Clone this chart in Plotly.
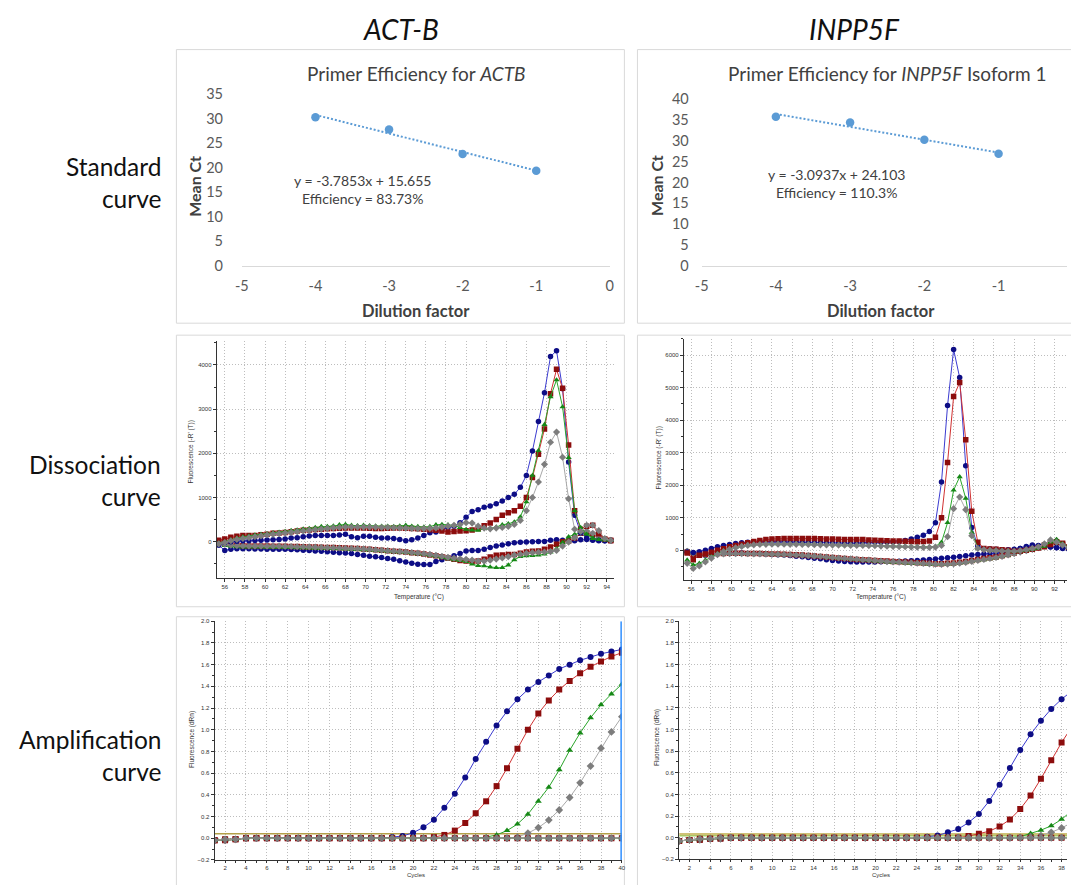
import plotly.graph_objects as go

# Figure size, the page's default body margin, and the factor by which the
# rendered page (figure plus margins) is reduced onto the 1071x885 canvas.
W, H = 1071, 885
PAGE_MARGIN = 8
FIG_W, FIG_H = W, H
SX = W / (W + 2 * PAGE_MARGIN)
SY = H / (H + 2 * PAGE_MARGIN)

# ---------------- Standard curves ----------------
dilution = [-4, -3, -2, -1]
actb_ct = [30.3, 27.8, 22.8, 19.4]
inpp5f_ct = [35.8, 34.4, 30.3, 26.9]
actb_fit = {"slope": -3.7853, "intercept": 15.655, "efficiency": "83.73%"}
inpp5f_fit = {"slope": -3.0937, "intercept": 24.103, "efficiency": "110.3%"}
dilution_ticks = [-5, -4, -3, -2, -1, 0]

# ---------------- Dissociation (melt) curves ----------------
actb_temp = [55.4, 56.0, 56.6, 57.2, 57.8, 58.4, 59.0, 59.6, 60.2, 60.8,
             61.4, 62.0, 62.6, 63.2, 63.8, 64.4, 65.0, 65.6, 66.2, 66.8,
             67.4, 68.0, 68.6, 69.2, 69.8, 70.4, 71.0, 71.6, 72.2, 72.8,
             73.4, 74.0, 74.6, 75.2, 75.8, 76.4, 77.0, 77.6, 78.2, 78.8,
             79.4, 80.0, 80.6, 81.2, 81.8, 82.4, 83.0, 83.6, 84.2, 84.8,
             85.4, 86.0, 86.6, 87.2, 87.8, 88.4, 89.0, 89.6, 90.2, 90.8,
             91.4, 92.0, 92.6, 93.2, 93.8, 94.4]
actb_melt_blue = [-50, -20, 0, 10, 20, 20, 25, 30, 35, 40,
                  50, 60, 80, 90, 110, 130, 140, 140, 140, 140,
                  150, 170, 110, 90, 120, 120, 100, 80, 80, 70,
                  50, 20, 40, 80, 140, 200, 220, 270, 320, 350,
                  430, 550, 680, 720, 780, 805, 860, 920, 1000, 1070,
                  1230, 1500, 2050, 2720, 3370, 4190, 4320, 3460, 1800, 600,
                  200, 80, 40, 30, 20, 30]
actb_melt_blue_b = [-80, -200, -170, -160, -160, -160, -165, -165, -170, -170,
                    -170, -175, -180, -185, -195, -200, -210, -220, -230, -240,
                    -250, -255, -270, -290, -310, -330, -345, -360, -380, -400,
                    -430, -460, -490, -510, -520, -520, -450, -410, -370, -320,
                    -270, -210, -200, -200, -170, -130, -100, -75, -50, -25,
                    -15, -10, 0, 5, 5, 30, 45, 30, 20, 20,
                    40, 50, 30, 20, 20, 20]
actb_melt_red = [30, 60, 100, 120, 140, 140, 140, 155, 170, 190,
                 195, 205, 225, 240, 255, 265, 275, 280, 290, 300,
                 305, 310, 310, 310, 310, 305, 300, 300, 305, 310,
                 310, 305, 300, 290, 280, 270, 260, 240, 220, 230,
                 240, 245, 265, 295, 360, 420, 500, 600, 655, 700,
                 800, 1000, 1450, 1980, 2550, 3350, 3900, 3470, 2190, 700,
                 280, 350, 370, 180, 60, 30]
actb_melt_red_b = [0, -40, -60, -80, -95, -100, -100, -100, -100, -105,
                   -105, -105, -110, -110, -115, -120, -120, -125, -130, -135,
                   -140, -145, -150, -155, -165, -175, -185, -195, -205, -215,
                   -225, -235, -250, -265, -280, -300, -320, -345, -370, -400,
                   -425, -440, -450, -440, -400, -350, -310, -300, -290, -290,
                   -265, -235, -220, -210, -170, -120, -60, 0, 15, 80,
                   190, 190, 160, 130, 40, 20]
actb_melt_green = [-30, 0, 40, 80, 110, 130, 150, 165, 180, 200,
                   215, 230, 250, 265, 285, 300, 320, 340, 345, 355,
                   380, 390, 370, 360, 370, 360, 355, 350, 350, 345,
                   355, 370, 350, 340, 330, 340, 380, 390, 380, 370,
                   320, 275, 260, 255, 300, 300, 330, 380, 405, 445,
                   560, 900, 1500, 2060, 2650, 3280, 3660, 3050, 1900, 700,
                   320, 170, 70, 45, 35, 30]
actb_melt_green_b = [-30, -90, -110, -120, -125, -125, -125, -125, -130, -130,
                     -130, -135, -135, -140, -140, -145, -150, -150, -155, -160,
                     -165, -170, -175, -180, -185, -190, -200, -210, -220, -230,
                     -240, -250, -260, -275, -290, -310, -330, -360, -390, -410,
                     -430, -450, -510, -545, -550, -575, -590, -590, -530, -410,
                     -340, -320, -315, -305, -285, -235, -160, -20, 110, 165,
                     200, 170, 90, 50, 35, 30]
actb_melt_gray = [-50, -20, 20, 50, 70, 90, 110, 130, 150, 165,
                  180, 195, 210, 225, 240, 255, 270, 285, 300, 310,
                  320, 330, 330, 330, 330, 330, 325, 320, 320, 315,
                  310, 305, 300, 295, 295, 300, 310, 330, 350, 370,
                  390, 430, 420, 350, 306, 290, 306, 320, 345, 390,
                  480, 700, 1000, 1350, 1750, 2250, 2480, 1910, 970, 280,
                  230, 370, 370, 250, 70, 30]
actb_melt_gray_b = [-30, -60, -80, -90, -95, -100, -100, -100, -105, -105,
                    -105, -110, -110, -115, -115, -120, -125, -130, -135, -140,
                    -145, -150, -155, -160, -165, -175, -185, -195, -205, -215,
                    -225, -235, -245, -260, -275, -290, -310, -330, -355, -375,
                    -390, -400, -420, -440, -440, -420, -395, -370, -340, -305,
                    -285, -265, -250, -240, -235, -225, -200, -100, -10, 90,
                    200, 240, 190, 110, 40, 25]

inpp5f_temp = [55.6, 56.2, 56.8, 57.4, 58.0, 58.6, 59.2, 59.8, 60.4, 61.0,
               61.6, 62.2, 62.8, 63.4, 64.0, 64.6, 65.2, 65.8, 66.4, 67.0,
               67.6, 68.2, 68.8, 69.4, 70.0, 70.6, 71.2, 71.8, 72.4, 73.0,
               73.6, 74.2, 74.8, 75.4, 76.0, 76.6, 77.2, 77.8, 78.4, 79.0,
               79.6, 80.2, 80.8, 81.4, 82.0, 82.6, 83.2, 83.8, 84.4, 85.0,
               85.6, 86.2, 86.8, 87.4, 88.0, 88.6, 89.2, 89.8, 90.4, 91.0,
               91.6, 92.2, 92.8, 93.4, 94.0]
inpp5f_melt_blue = [-50, -70, -40, 0, 60, 110, 150, 180, 210, 230,
                    250, 260, 265, 265, 265, 260, 260, 255, 255, 250,
                    245, 240, 240, 235, 230, 225, 220, 215, 215, 230,
                    240, 250, 250, 255, 260, 270, 300, 350, 400, 460,
                    580, 850, 2100, 4450, 6175, 5313, 2600, 700, 130, 50,
                    40, 30, 20, 20, 30, 60, 120, 160, 150, 130,
                    100, 80, 60, 40, 30]
inpp5f_melt_blue_b = [-30, -100, -140, -150, -130, -100, -90, -85, -80, -85,
                      -95, -100, -105, -115, -125, -135, -145, -160, -180, -200,
                      -220, -240, -260, -290, -310, -330, -345, -355, -360, -360,
                      -360, -360, -355, -345, -340, -335, -330, -320, -310, -300,
                      -285, -270, -245, -230, -210, -190, -170, -140, -125, -115,
                      -105, -95, -65, -40, 0, 60, 90, 120, 130, 120,
                      110, 90, 70, 50, 40]
inpp5f_melt_red = [-80, -290, -150, -110, -60, 0, 50, 110, 150, 190,
                   230, 270, 300, 330, 350, 355, 360, 360, 360, 360,
                   360, 360, 355, 350, 345, 340, 335, 330, 330, 330,
                   320, 310, 300, 295, 290, 285, 280, 270, 260, 270,
                   290, 400, 1000, 2700, 4730, 5160, 3400, 1200, 250, 60,
                   40, 30, 20, 0, -30, -20, 0, 30, 70, 110,
                   180, 260, 220, 100, 50]
inpp5f_melt_red_b = [-50, -120, -140, -130, -110, -100, -95, -90, -90, -90,
                     -95, -100, -100, -105, -110, -115, -120, -125, -135, -145,
                     -160, -175, -190, -205, -220, -235, -250, -265, -280, -290,
                     -300, -310, -320, -330, -340, -350, -360, -370, -380, -390,
                     -400, -410, -410, -400, -390, -370, -340, -310, -280, -250,
                     -230, -205, -170, -130, -80, -30, 20, 60, 110, 160,
                     230, 240, 180, 90, 40]
inpp5f_melt_green = [-300, -450, -400, -300, -200, -100, -20, 40, 90, 130,
                     160, 180, 190, 195, 200, 200, 200, 200, 200, 195,
                     195, 190, 185, 180, 175, 170, 165, 165, 160, 160,
                     155, 150, 145, 140, 135, 130, 125, 120, 115, 110,
                     110, 120, 250, 850, 1850, 2260, 1600, 550, 60, 20,
                     10, 0, -10, -20, -30, -20, 0, 30, 60, 120,
                     250, 330, 200, 90, 40]
inpp5f_melt_green_b = [-20, -80, -110, -120, -115, -110, -105, -100, -100, -100,
                       -100, -105, -105, -110, -115, -120, -125, -130, -140, -150,
                       -165, -180, -195, -210, -225, -240, -255, -270, -285, -300,
                       -315, -330, -345, -360, -370, -380, -390, -400, -410, -420,
                       -430, -440, -440, -430, -420, -400, -380, -350, -320, -290,
                       -260, -230, -190, -150, -100, -60, -20, 20, 60, 120,
                       200, 280, 200, 100, 40]
inpp5f_melt_gray = [-400, -560, -480, -360, -240, -130, -40, 30, 80, 120,
                    150, 170, 180, 185, 190, 190, 190, 185, 185, 180,
                    180, 175, 170, 165, 160, 160, 155, 150, 150, 150,
                    145, 140, 130, 125, 120, 115, 110, 100, 95, 90,
                    90, 100, 150, 420, 1280, 1640, 1250, 450, 60, 20,
                    0, -10, -20, -30, -30, -10, 20, 60, 110, 200,
                    320, 250, 160, 80, 40]
inpp5f_melt_gray_b = [-30, -90, -120, -125, -120, -115, -110, -105, -105, -105,
                      -105, -110, -110, -115, -120, -125, -130, -135, -145, -155,
                      -165, -180, -190, -205, -220, -235, -250, -260, -275, -290,
                      -300, -315, -330, -345, -355, -365, -375, -385, -395, -405,
                      -415, -425, -430, -425, -415, -395, -370, -340, -310, -280,
                      -250, -220, -185, -145, -100, -55, -10, 30, 80, 150,
                      260, 300, 180, 90, 40]

# ---------------- Amplification curves ----------------
cycles = [1, 2, 3, 4, 5, 6, 7, 8, 9, 10,
          11, 12, 13, 14, 15, 16, 17, 18, 19, 20,
          21, 22, 23, 24, 25, 26, 27, 28, 29, 30,
          31, 32, 33, 34, 35, 36, 37, 38, 39, 40]
actb_amp_blue = [-0.02, -0.02, -0.01, 0.00, 0.00, 0.00, 0.00, 0.00, 0.00, 0.00,
                 0.00, 0.00, 0.00, 0.00, 0.00, 0.00, 0.00, 0.01, 0.02, 0.05,
                 0.10, 0.17, 0.28, 0.41, 0.56, 0.73, 0.89, 1.04, 1.17, 1.28,
                 1.37, 1.44, 1.50, 1.56, 1.60, 1.64, 1.67, 1.70, 1.72, 1.74]
actb_amp_red = [-0.02, -0.02, -0.01, 0.00, 0.00, 0.00, 0.00, 0.00, 0.00, 0.00,
                0.00, 0.00, 0.00, 0.00, 0.00, 0.00, 0.00, 0.00, 0.00, 0.00,
                0.00, 0.01, 0.03, 0.07, 0.14, 0.23, 0.34, 0.48, 0.645, 0.825,
                1.00, 1.15, 1.27, 1.37, 1.45, 1.52, 1.58, 1.63, 1.675, 1.71]
actb_amp_green = [-0.02, -0.02, -0.01, 0.00, 0.00, 0.00, 0.00, 0.00, 0.00, 0.00,
                  0.00, 0.00, 0.00, 0.00, 0.00, 0.00, 0.00, 0.00, 0.00, 0.00,
                  0.00, 0.00, 0.00, 0.00, 0.00, 0.00, 0.01, 0.03, 0.07, 0.13,
                  0.22, 0.34, 0.47, 0.63, 0.81, 0.97, 1.11, 1.23, 1.33, 1.42]
actb_amp_gray = [-0.02, -0.02, -0.01, 0.00, 0.00, 0.00, 0.00, 0.00, 0.00, 0.00,
                 0.00, 0.00, 0.00, 0.00, 0.00, 0.00, 0.00, 0.00, 0.00, 0.00,
                 0.00, 0.00, 0.00, 0.00, 0.00, 0.00, 0.00, 0.00, 0.00, 0.01,
                 0.046, 0.097, 0.167, 0.26, 0.375, 0.51, 0.665, 0.83, 0.98, 1.12]
actb_amp_ntc = [-0.02, -0.01, -0.01, 0.00, 0.00, 0.00, 0.00, 0.00, 0.00, 0.00,
                0.00, 0.00, 0.00, 0.00, 0.00, 0.00, 0.00, 0.00, 0.00, 0.00,
                0.00, 0.00, 0.00, 0.00, 0.00, 0.00, 0.00, 0.00, 0.00, 0.00,
                0.00, 0.00, 0.00, 0.00, 0.00, 0.00, 0.00, 0.00, 0.00, 0.00]
actb_threshold = 0.04
actb_cursor_cycle = 40

inpp5f_amp_blue = [-0.03, -0.02, -0.02, -0.01, -0.01, 0.00, 0.00, 0.00, 0.00, 0.00,
                   0.00, 0.00, 0.00, 0.00, 0.00, 0.00, 0.00, 0.00, 0.00, 0.00,
                   0.00, 0.00, 0.00, 0.00, 0.01, 0.02, 0.05, 0.08, 0.14, 0.22,
                   0.34, 0.49, 0.645, 0.81, 0.955, 1.08, 1.19, 1.28, 1.355, 1.41]
inpp5f_amp_red = [-0.03, -0.02, -0.02, -0.01, -0.01, 0.00, 0.00, 0.00, 0.00, 0.00,
                  0.00, 0.00, 0.00, 0.00, 0.00, 0.00, 0.00, 0.00, 0.00, 0.00,
                  0.00, 0.00, 0.00, 0.00, 0.00, 0.00, 0.00, 0.00, 0.015, 0.037,
                  0.06, 0.104, 0.168, 0.265, 0.39, 0.545, 0.715, 0.88, 1.025, 1.14]
inpp5f_amp_green = [-0.03, -0.02, -0.02, -0.01, -0.01, 0.00, 0.00, 0.00, 0.00, 0.00,
                    0.00, 0.00, 0.00, 0.00, 0.00, 0.00, 0.00, 0.00, 0.00, 0.00,
                    0.00, 0.00, 0.00, 0.00, 0.00, 0.00, 0.00, 0.00, 0.00, 0.00,
                    0.00, 0.00, 0.00, 0.01, 0.04, 0.07, 0.11, 0.17, 0.25, 0.32]
inpp5f_amp_gray = [-0.03, -0.02, -0.02, -0.01, -0.01, 0.00, 0.00, 0.00, 0.00, 0.00,
                   0.00, 0.00, 0.00, 0.00, 0.00, 0.00, 0.00, 0.00, 0.00, 0.00,
                   0.00, 0.00, 0.00, 0.00, 0.00, 0.00, 0.00, 0.00, 0.00, 0.00,
                   0.00, 0.00, 0.00, 0.00, 0.01, 0.02, 0.05, 0.09, 0.14, 0.19]
inpp5f_amp_ntc = [-0.03, -0.02, -0.01, -0.01, 0.00, 0.00, 0.00, 0.00, 0.00, 0.00,
                  0.00, 0.00, 0.00, 0.00, 0.00, 0.00, 0.00, 0.00, 0.00, 0.00,
                  0.00, 0.00, 0.00, 0.00, 0.00, 0.00, 0.00, 0.00, 0.00, 0.00,
                  0.00, 0.00, 0.00, 0.00, 0.00, 0.00, 0.00, 0.00, 0.00, 0.00]
inpp5f_thresholds = [0.035, 0.018]

# ---------------- Styling ----------------
SERIES = {
    "blue": dict(line="#3b3bd0", marker="#0d0d85", symbol="circle"),
    "red": dict(line="#d03232", marker="#8c0d0d", symbol="square"),
    "green": dict(line="#2aa52a", marker="#168816", symbol="triangle-up"),
    "gray": dict(line="#a8a8a8", marker="#7d7d7d", symbol="diamond"),
}
EXCEL_BLUE = "#5b9bd5"
EXCEL_TEXT = "#404040"
INST_FONT = "Liberation Sans"
BOX_COLOR = "#d9d9d9"

# right-most canvas pixel that the figure can reach
X_LIMIT = SX * (FIG_W + PAGE_MARGIN)


def fx(px):
    """Canvas x pixel -> figure paper coordinate."""
    return (px / SX - PAGE_MARGIN) / FIG_W


def fy(py):
    """Canvas y pixel -> figure paper coordinate."""
    return 1 - (py / SY - PAGE_MARGIN) / FIG_H


def clamp(v):
    return min(1.0, max(0.0, v))


fig = go.Figure()
layout = dict(
    width=FIG_W, height=FIG_H, autosize=False,
    margin=dict(l=0, r=0, t=0, b=0, pad=0),
    paper_bgcolor="white", plot_bgcolor="white",
    showlegend=False, font=dict(family="Lato"),
)


def axis_name(kind, n):
    return f"{kind}axis" if n == 1 else f"{kind}axis{n}"


def ref(kind, n):
    return kind if n == 1 else f"{kind}{n}"


def x_domain_and_range(x0, x1, lo, hi):
    """Plot area spans canvas pixels x0..x1 for values lo..hi; trim at the figure edge."""
    right_px = min(x1, X_LIMIT)
    hi_vis = lo + (hi - lo) * (right_px - x0) / (x1 - x0)
    return [clamp(fx(x0)), clamp(fx(right_px))], [lo, hi_vis]


# Excel-style standard-curve axes
def std_axes(n, x0, x1, ytop, ybot, ymax, ylen):
    tickfont = dict(family="Lato", size=14.5, color="#595959")
    dom, rng = x_domain_and_range(x0, x1, -5, 0)
    layout[axis_name("x", n)] = dict(
        domain=dom, range=rng, tickmode="array",
        tickvals=dilution_ticks, ticktext=[str(v) for v in dilution_ticks],
        showline=True, linecolor=BOX_COLOR, linewidth=1,
        showgrid=False, zeroline=False, ticks="outside", ticklen=7,
        tickcolor="rgba(0,0,0,0)", tickfont=tickfont, anchor=ref("y", n))
    layout[axis_name("y", n)] = dict(
        domain=[fy(ybot), fy(ytop)], range=[0, ymax], tickmode="linear",
        tick0=0, dtick=5, showline=False, showgrid=False, zeroline=False,
        ticks="outside", ticklen=ylen, tickcolor="rgba(0,0,0,0)",
        tickfont=tickfont, anchor=ref("x", n))


# Instrument-style axes (fine dotted grid, minor ticks)
def inst_axes(n, x0, x1, ytop, ybot, xr, yr, xt0, xdt, xmin, yt0, ydt, ymin, yfmt=None,
              xticklen=3):
    tickfont = dict(family=INST_FONT, size=6, color="#333333")
    common = dict(showline=True, linecolor="#333333", linewidth=1, ticks="outside",
                  tickwidth=1, tickcolor="#333333", tickfont=tickfont,
                  showgrid=True, gridcolor="#bdbdbd", griddash="1px,2px", gridwidth=1,
                  zeroline=False, tickmode="linear")
    dom, rng = x_domain_and_range(x0, x1, xr[0], xr[1])
    layout[axis_name("x", n)] = dict(
        domain=dom, range=rng, tick0=xt0, dtick=xdt, ticklen=xticklen,
        minor=dict(tick0=xt0, dtick=xmin, ticks="outside", ticklen=2,
                   tickcolor="#333333", showgrid=False),
        anchor=ref("y", n), **common)
    ya = dict(domain=[clamp(fy(ybot)), clamp(fy(ytop))], range=yr, tick0=yt0, dtick=ydt,
              ticklen=3,
              minor=dict(tick0=yt0, dtick=ymin, ticks="outside", ticklen=2,
                         tickcolor="#333333", showgrid=False),
              anchor=ref("x", n), **common)
    if yfmt:
        ya["tickformat"] = yfmt
    layout[axis_name("y", n)] = ya


std_axes(1, 241.7, 608.0, 93.3, 265.0, 35, 15)
std_axes(2, 699.4, 1068.9, 98.3, 265.0, 40, 9)
inst_axes(3, 216.7, 612.0, 340.0, 578.0, [55.2, 94.7], [-830, 4550], 56, 2, 1, 0, 1000, 500)
inst_axes(4, 681.7, 1071.0, 338.3, 579.3, [55.27, 94.02], [-900, 6500], 56, 2, 1, 0, 1000, 500)
inst_axes(5, 214.6, 620.0, 621.0, 860.0, [1, 40], [-0.2, 2.0], 2, 2, 1, -0.2, 0.2, 0.1, ".1f",
          xticklen=2)
inst_axes(6, 677.0, 1071.0, 621.0, 859.5, [1, 39.29], [-0.2, 2.0], 2, 2, 1, -0.2, 0.2, 0.1, ".1f",
          xticklen=2)


# ---------------- Standard-curve traces ----------------
def add_standard(n, ct, fit):
    xs, ys = ref("x", n), ref("y", n)
    line_x = [dilution[0], dilution[-1]]
    line_y = [fit["slope"] * v + fit["intercept"] for v in line_x]
    fig.add_trace(go.Scatter(x=line_x, y=line_y, mode="lines", xaxis=xs, yaxis=ys,
                             line=dict(color=EXCEL_BLUE, width=2, dash="2px,2px"),
                             hoverinfo="skip"))
    fig.add_trace(go.Scatter(x=dilution, y=ct, mode="markers", xaxis=xs, yaxis=ys,
                             marker=dict(color=EXCEL_BLUE, size=8.5)))


add_standard(1, actb_ct, actb_fit)
add_standard(2, inpp5f_ct, inpp5f_fit)


# ---------------- Melt / amplification traces ----------------
def add_curve(n, x, y, key, msize):
    st = SERIES[key]
    fig.add_trace(go.Scatter(
        x=x, y=y, mode="lines+markers", xaxis=ref("x", n), yaxis=ref("y", n),
        line=dict(color=st["line"], width=1),
        marker=dict(color=st["marker"], symbol=st["symbol"], size=msize,
                    line=dict(width=0))))


melt_sets = [
    (3, actb_temp, [("blue", actb_melt_blue_b), ("red", actb_melt_red_b),
                    ("green", actb_melt_green_b), ("gray", actb_melt_gray_b),
                    ("blue", actb_melt_blue), ("red", actb_melt_red),
                    ("green", actb_melt_green), ("gray", actb_melt_gray)]),
    (4, inpp5f_temp, [("blue", inpp5f_melt_blue_b), ("red", inpp5f_melt_red_b),
                      ("green", inpp5f_melt_green_b), ("gray", inpp5f_melt_gray_b),
                      ("blue", inpp5f_melt_blue), ("red", inpp5f_melt_red),
                      ("green", inpp5f_melt_green), ("gray", inpp5f_melt_gray)]),
]
for n, temps, curves in melt_sets:
    for key, vals in curves:
        add_curve(n, temps, vals, key, 5.5)

# threshold lines
fig.add_trace(go.Scatter(x=[cycles[0], cycles[-1]], y=[actb_threshold] * 2, mode="lines",
                         xaxis="x5", yaxis="y5", line=dict(color="#b3a048", width=1.5)))
for thr, col in zip(inpp5f_thresholds, ["#bfae4a", "#a9c866"]):
    fig.add_trace(go.Scatter(x=[cycles[0], cycles[-1]], y=[thr] * 2, mode="lines",
                             xaxis="x6", yaxis="y6", line=dict(color=col, width=1.5)))

amp_sets = [
    (5, [("blue", actb_amp_blue), ("red", actb_amp_red), ("green", actb_amp_green),
         ("gray", actb_amp_gray), ("blue", actb_amp_ntc), ("red", actb_amp_ntc),
         ("green", actb_amp_ntc), ("gray", actb_amp_ntc)]),
    (6, [("blue", inpp5f_amp_blue), ("red", inpp5f_amp_red), ("green", inpp5f_amp_green),
         ("gray", inpp5f_amp_gray), ("blue", inpp5f_amp_ntc), ("red", inpp5f_amp_ntc),
         ("green", inpp5f_amp_ntc), ("gray", inpp5f_amp_ntc)]),
]
for n, curves in amp_sets:
    for key, vals in curves:
        add_curve(n, cycles, vals, key, 6)

# cycle cursor
fig.add_trace(go.Scatter(x=[actb_cursor_cycle] * 2, y=[-0.2, 2.0], mode="lines",
                         xaxis="x5", yaxis="y5", line=dict(color="#2f8fff", width=3),
                         cliponaxis=False))

# ---------------- Panel frames ----------------
shapes = []
for (x0, y0, x1, y1) in [(176.5, 48.5, 622.5, 322.5), (635.5, 48.5, 1090, 322.5),
                         (176.5, 334.5, 622.5, 606.5), (635.5, 334.5, 1090, 606.5),
                         (176.5, 616.5, 622.5, 900), (635.5, 616.5, 1090, 900)]:
    shapes.append(dict(type="rect", xref="paper", yref="paper",
                       x0=fx(x0), x1=fx(x1), y0=fy(y1), y1=fy(y0),
                       line=dict(color=BOX_COLOR, width=1), fillcolor="white",
                       layer="below"))
layout["shapes"] = shapes

# ---------------- Text ----------------
ann = []


def text(x, y, s, size, color="#111111", family="Lato", angle=0, xanchor="center",
         align="center", yanchor="middle"):
    ann.append(dict(x=fx(x), y=fy(y), xref="paper", yref="paper", text=s,
                    showarrow=False, textangle=angle, xanchor=xanchor,
                    yanchor=yanchor, align=align,
                    font=dict(family=family, size=size, color=color)))


# column headers
text(400, 28, "<i>ACT-B</i>", 28)
text(852, 28, "<i>INPP5F</i>", 28)
# row labels
text(163, 182, "Standard<br>curve", 24.5, xanchor="right", align="right")
text(163, 480, "Dissociation<br>curve", 24.5, xanchor="right", align="right")
text(163, 755, "Amplification<br>curve", 24.5, xanchor="right", align="right")

# standard-curve titles, axis titles and fit labels
text(415, 72, "Primer Efficiency for <i>ACTB</i>", 19, EXCEL_TEXT)
text(884, 72, "Primer Efficiency for <i>INPP5F</i> Isoform 1", 19, EXCEL_TEXT)
text(195, 185, "<b>Mean Ct</b>", 16, EXCEL_TEXT, angle=-90)
text(655, 185, "<b>Mean Ct</b>", 16, EXCEL_TEXT, angle=-90)
text(415, 310, "<b>Dilution factor</b>", 16.5, EXCEL_TEXT)
text(878, 310, "<b>Dilution factor</b>", 16.5, EXCEL_TEXT)
text(362, 189, f"y = {actb_fit['slope']}x + {actb_fit['intercept']}<br>"
               f"Efficiency = {actb_fit['efficiency']}", 14, EXCEL_TEXT)
text(834, 183, f"y = {inpp5f_fit['slope']}x + {inpp5f_fit['intercept']}<br>"
               f"Efficiency = {inpp5f_fit['efficiency']}", 14, EXCEL_TEXT)

# instrument axis titles
text(192, 451, "Fluorescence (-R' (T))", 6.5, "#333333", INST_FONT, angle=-90)
text(657, 458, "Fluorescence (-R' (T))", 6.5, "#333333", INST_FONT, angle=-90)
text(418, 597, "Temperature (°C)", 6.5, "#333333", INST_FONT)
text(878, 597, "Temperature (°C)", 6.5, "#333333", INST_FONT)
text(192, 739, "Fluorescence (dRn)", 6.5, "#333333", INST_FONT, angle=-90)
text(655, 738, "Fluorescence (dRn)", 6.5, "#333333", INST_FONT, angle=-90)
text(415, 875.5, "Cycles", 6, "#333333", INST_FONT)
text(878, 875.5, "Cycles", 6, "#333333", INST_FONT)
layout["annotations"] = ann

fig.update_layout(**layout)
fig.write_html("out.html", config={"displayModeBar": False})
